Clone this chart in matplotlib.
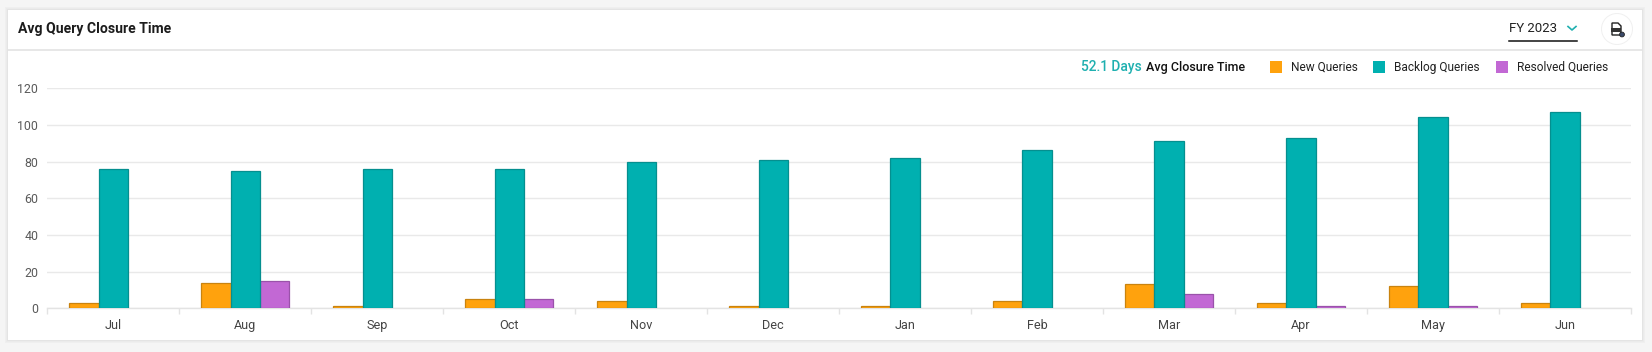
#!/bin/python

import matplotlib
matplotlib.use("Agg")
import numpy as np
import matplotlib.pyplot as plt
from matplotlib.patches import Rectangle, Circle, Polygon

plt.rcParams['font.family'] = ['Roboto', 'DejaVu Sans']

months = ["Jul", "Aug", "Sep", "Oct", "Nov", "Dec", "Jan", "Feb", "Mar", "Apr", "May", "Jun"]
new_queries = [3, 14, 1, 5, 4, 1, 1, 4, 13, 3, 12, 3]
backlog_queries = [76, 75, 76, 76, 80, 81, 82, 86.4, 91.3, 93, 104.6, 107.3]
resolved_queries = [0, 15, 0, 5, 0, 0, 0, 0, 8, 1, 1, 0]
y_ticks = [0, 20, 40, 60, 80, 100, 120]

W, H = 1652, 352
ORANGE, ORANGE_EDGE = "#ffa20d", "#c9830f"
TEAL, TEAL_EDGE = "#00b0b0", "#058f8f"
PURPLE, PURPLE_EDGE = "#c268d4", "#9a52aa"

fig = plt.figure(figsize=(W / 100, H / 100), dpi=100, facecolor="#f5f5f5")

# page layer in pixel coordinates, y going down
page = fig.add_axes([0, 0, 1, 1])
page.set_xlim(0, W)
page.set_ylim(H, 0)
page.axis("off")

# soft shadow round the card
for grow, shade in [(3, "#efefef"), (2, "#ebebeb"), (1, "#e4e4e4")]:
    page.add_patch(Rectangle((8 - grow, 10 - grow), 1634 + 2 * grow, 330 + 2 * grow,
                             facecolor=shade, edgecolor="none"))
page.add_patch(Rectangle((8, 10), 1634, 330, facecolor="white", edgecolor="none"))
page.plot([8, 1642], [49.5, 49.5], color="#e3e3e3", lw=1.2)

page.text(18, 29.5, "Avg Query Closure Time", fontsize=10.1, fontweight="bold",
          color="#1c1c1c", va="center")

# year selector
page.text(1509, 28.5, "FY 2023", fontsize=9.5, color="#222222", va="center")
page.plot([1568, 1572, 1576], [26.5, 30, 26.5], color="#1fb0b0", lw=1.2)
page.plot([1509, 1577], [40.5, 40.5], color="#111111", lw=1.1)

# export button
page.add_patch(Circle((1617, 29), 16, facecolor="#f0f0f0", edgecolor="none"))
page.add_patch(Circle((1617, 29), 15, facecolor="white", edgecolor="none"))
page.add_patch(Polygon([(1612, 23), (1618, 23), (1621, 26), (1621, 35), (1612, 35)],
                       closed=True, facecolor="white", edgecolor="#222222", lw=1))
page.add_patch(Rectangle((1611, 27.5), 10, 4.5, facecolor="#333333", edgecolor="none"))
page.add_patch(Circle((1622, 34.5), 2.4, facecolor="#3a4a6a", edgecolor="#222222", lw=0.6))

# summary and legend
legend_y = 66.5
text_y = legend_y + 0.8
page.text(1081, text_y, "52.1 Days", fontsize=9.9, fontweight="medium", color="#1fb0b0", va="center")
page.text(1146, text_y, "Avg Closure Time", fontsize=9.0, fontweight="medium", color="#111111", va="center")
for swatch_x, text_x, label, colour in [(1270, 1291, "New Queries", ORANGE),
                                        (1373, 1394, "Backlog Queries", TEAL),
                                        (1496, 1517, "Resolved Queries", PURPLE)]:
    page.add_patch(Rectangle((swatch_x, legend_y - 6), 12, 12, facecolor=colour, edgecolor="none"))
    page.text(text_x, text_y, label, fontsize=8.6, color="#222222", va="center")

# chart
left, right, top, bottom = 47.3, 1631, 88.3, 308.3
ax = fig.add_axes([left / W, 1 - bottom / H, (right - left) / W, (bottom - top) / H])
ax.patch.set_alpha(0)
x = np.arange(len(months))
bar_width = 0.222
ax.bar(x - bar_width, new_queries, bar_width, color=ORANGE, edgecolor=ORANGE_EDGE, linewidth=0.9, zorder=3)
ax.bar(x, backlog_queries, bar_width, color=TEAL, edgecolor=TEAL_EDGE, linewidth=0.9, zorder=4)
ax.bar(x + bar_width, [v if v else np.nan for v in resolved_queries], bar_width,
       color=PURPLE, edgecolor=PURPLE_EDGE, linewidth=0.9, zorder=3)

ax.set_xlim(-0.5, len(months) - 0.5)
ax.set_ylim(0, 120)
ax.set_yticks(y_ticks)
ax.set_xticks(x)
ax.set_xticklabels(months)
ax.set_xticks(np.arange(len(months) + 1) - 0.5, minor=True)
ax.grid(axis="y", color="#e9e9e9", lw=1, zorder=0)
ax.set_axisbelow(True)
for side in ["top", "left", "right"]:
    ax.spines[side].set_visible(False)
ax.spines["bottom"].set_color("#e3e3e3")
ax.spines["bottom"].set_linewidth(1)
ax.tick_params(axis="y", length=0, pad=6.5, labelsize=8.9, labelcolor="#5a5a5a")
ax.tick_params(axis="x", which="major", length=0, pad=7.5, labelsize=9.1, labelcolor="#444444")
ax.tick_params(axis="x", which="minor", length=4, width=1, color="#e3e3e3")

fig.savefig("out.png", dpi=100, facecolor=fig.get_facecolor())
